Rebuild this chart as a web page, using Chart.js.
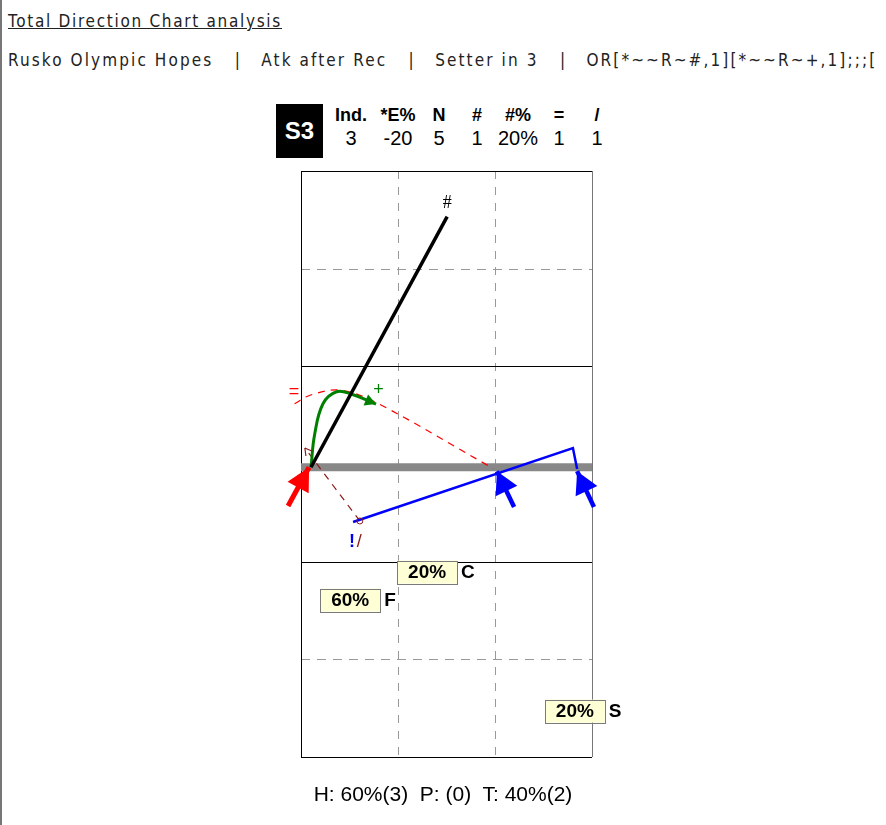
<!DOCTYPE html>
<html>
<head>
<meta charset="utf-8">
<script src="https://cdn.jsdelivr.net/npm/chart.js@4.4.1/dist/chart.umd.min.js"></script>
<style>
  body { margin: 0; background: #fff; }
  #page { position: relative; width: 886px; height: 825px; overflow: hidden; }
  #leftRule { position: absolute; left: 0; top: 0; width: 2px; height: 825px; background: #777; }
  .hdr { position: absolute; left: 8px; white-space: nowrap; font-family: "DejaVu Sans Condensed", "DejaVu Sans", sans-serif; font-size: 17px; letter-spacing: 1.7px; color: #222; }
  #title { top: 11px; text-decoration: underline; }
  #filters { top: 50px; width: 874px; overflow: hidden; letter-spacing: 2.1px; }
  #filters .sep { display: inline-block; width: 48px; text-align: center; letter-spacing: 0; }
  #badge { position: absolute; left: 276px; top: 104px; width: 47px; height: 54px; background: #000; color: #fff;
           font: bold 24px "Liberation Sans", Arial, sans-serif; display: flex; align-items: center; justify-content: center; }
  .stat { position: absolute; width: 60px; margin-left: -30px; text-align: center; font-family: "Liberation Sans", Arial, sans-serif; color: #000; }
  .stat.head { top: 105px; font-weight: bold; font-size: 18px; }
  .stat.val { top: 127px; font-size: 20px; }
  #summary { position: absolute; left: 0; width: 886px; top: 782px; text-align: center; font: 21px "Liberation Sans", Arial, sans-serif; color: #000; white-space: pre; }
  #chartBox { position: absolute; left: 0; top: 0; width: 886px; height: 825px; }
</style>
</head>
<body>
<div id="page">
  <div id="leftRule"></div>
  <div class="hdr" id="title">Total Direction Chart analysis</div>
  <div class="hdr" id="filters"></div>
  <div id="badge">S3</div>
  <div id="stats"></div>
  <div id="chartBox"><canvas id="courtChart"></canvas></div>
  <div id="summary"></div>
</div>
<script>
// header / filters
const filters = ['Rusko Olympic Hopes', 'Atk after Rec', 'Setter in 3', 'OR[*~~R~#,1][*~~R~+,1];;;['];

// stats table
const statHeads = ['Ind.', '*E%', 'N', '#', '#%', '=', '/'];
const statValues = ['3', '-20', '5', '1', '20%', '1', '1'];
const statCols = [351, 398, 439, 477, 518, 559, 597];

// zone percentages
const zoneNames = ['C', 'F', 'S'];
const zonePct = [20, 60, 20];
const zoneX = [3.9, 1.52, 8.47];
const zoneY = [5.68, 4.82, 1.41];

// summary line
const summaryKeys = ['H', 'P', 'T'];
const summaryPct = [60, null, 40];
const summaryCount = [3, 0, 2];

// court lines (meters)
const solidLinesY = [0, 6, 12, 18];
const dashedLinesY = [3, 15];
const dashedLinesX = [3, 6];
const netY = 8.9;

// attack paths (court meters)
const killPath = [{ x: 0.31, y: 8.9 }, { x: 4.52, y: 16.6 }];
const plusPath = [{ x: 0.31, y: 8.9 }, { x: 0.42, y: 9.9 }, { x: 0.68, y: 10.85 }, { x: 1.1, y: 11.22 }, { x: 1.55, y: 11.15 }, { x: 2.32, y: 10.84 }];
const errorPath = [{ x: -0.2, y: 10.85 }, { x: 0.3, y: 11.12 }, { x: 1.2, y: 11.27 }, { x: 2.3, y: 10.9 }, { x: 5.95, y: 8.86 }];
const blockedPath = [{ x: 1.82, y: 7.25 }, { x: 0.12, y: 9.49 }];
const slashPath = [{ x: 1.61, y: 7.22 }, { x: 8.41, y: 9.49 }, { x: 8.54, y: 8.85 }];
const setterArrow = [{ x: -0.4, y: 7.71 }, { x: 0.25, y: 8.9 }];
const hitterArrowA = [{ x: 6.59, y: 7.68 }, { x: 6.06, y: 8.78 }];
const hitterArrowB = [{ x: 9.06, y: 7.68 }, { x: 8.54, y: 8.78 }];

// build html parts
document.getElementById('filters').innerHTML =
  filters.map((f) => `<span>${f}</span>`).join('<span class="sep">|</span>');

const statsEl = document.getElementById('stats');
statHeads.forEach((h, i) => {
  statsEl.innerHTML += `<div class="stat head" style="left:${statCols[i]}px">${h}</div>`;
  statsEl.innerHTML += `<div class="stat val" style="left:${statCols[i]}px">${statValues[i]}</div>`;
});

document.getElementById('summary').textContent = summaryKeys
  .map((k, i) => `${k}: ${summaryPct[i] === null ? '' : summaryPct[i] + '%'}(${summaryCount[i]})`)
  .join('  ');

function strokeLine(ctx, x1, y1, x2, y2) {
  ctx.beginPath();
  ctx.moveTo(x1, y1);
  ctx.lineTo(x2, y2);
  ctx.stroke();
}

const courtPlugin = {
  id: 'court',
  beforeDatasetsDraw(chart) {
    const { ctx, scales: { x, y } } = chart;
    const left = x.getPixelForValue(0), right = x.getPixelForValue(9);
    const top = y.getPixelForValue(18), bottom = y.getPixelForValue(0);
    ctx.save();
    ctx.lineWidth = 1;
    ctx.strokeStyle = '#999';
    ctx.setLineDash([9, 7]);
    dashedLinesY.forEach((v) => {
      const py = Math.round(y.getPixelForValue(v)) + 0.5;
      strokeLine(ctx, left, py, right, py);
    });
    ctx.setLineDash([8, 8]);
    dashedLinesX.forEach((v) => {
      const px = Math.round(x.getPixelForValue(v)) + 0.5;
      strokeLine(ctx, px, top, px, bottom);
    });
    ctx.setLineDash([]);
    ctx.strokeStyle = '#000';
    solidLinesY.forEach((v) => {
      const py = Math.round(y.getPixelForValue(v)) + 0.5;
      strokeLine(ctx, left, py, right, py);
    });
    strokeLine(ctx, Math.round(left) + 0.5, top, Math.round(left) + 0.5, bottom);
    ctx.strokeStyle = '#777';
    strokeLine(ctx, Math.round(right) + 0.5, top, Math.round(right) + 0.5, bottom);
    // net
    ctx.strokeStyle = '#888';
    ctx.lineWidth = 8;
    const ny = y.getPixelForValue(netY);
    strokeLine(ctx, left, ny, right, ny);
    ctx.restore();
  }
};

// arrow heads at the last point of a dataset, placed through the scales
const arrowPlugin = {
  id: 'arrowHeads',
  afterDatasetsDraw(chart) {
    const { ctx, scales: { x, y } } = chart;
    chart.data.datasets.forEach((ds) => {
      if (!ds.head) return;
      const n = ds.data.length;
      const tx = x.getPixelForValue(ds.data[n - 1].x), ty = y.getPixelForValue(ds.data[n - 1].y);
      const px = x.getPixelForValue(ds.data[n - 2].x), py = y.getPixelForValue(ds.data[n - 2].y);
      const ang = Math.atan2(ty - py, tx - px);
      const len = ds.head.len, half = ds.head.half;
      ctx.save();
      ctx.translate(tx, ty);
      ctx.rotate(ang);
      ctx.beginPath();
      ctx.moveTo(0, 0);
      ctx.lineTo(-len, -half);
      if (ds.head.open) {
        ctx.moveTo(0, 0);
        ctx.lineTo(-len, half);
        ctx.strokeStyle = ds.borderColor;
        ctx.lineWidth = 1.2;
        ctx.stroke();
      } else {
        ctx.lineTo(-len, half);
        ctx.closePath();
        ctx.fillStyle = ds.borderColor;
        ctx.fill();
      }
      ctx.restore();
    });
  }
};

const labelPlugin = {
  id: 'courtLabels',
  afterDraw(chart) {
    const { ctx, scales: { x, y } } = chart;
    ctx.save();
    ctx.textAlign = 'center';
    ctx.textBaseline = 'middle';
    ctx.font = '18px "Liberation Serif", serif';
    ctx.fillStyle = '#000';
    ctx.fillText('#', x.getPixelForValue(4.52), y.getPixelForValue(17.0));
    ctx.font = '18px "Liberation Sans", sans-serif';
    ctx.fillStyle = '#008000';
    ctx.fillText('+', x.getPixelForValue(2.4), y.getPixelForValue(11.26));
    ctx.fillStyle = '#ff0000';
    ctx.fillText('=', x.getPixelForValue(-0.22), y.getPixelForValue(11.2));
    ctx.font = 'bold 18px "Liberation Sans", sans-serif';
    ctx.fillStyle = '#0000ff';
    ctx.fillText('!', x.getPixelForValue(1.58), y.getPixelForValue(6.6));
    ctx.font = '18px "Liberation Sans", sans-serif';
    ctx.fillStyle = '#8b1a1a';
    ctx.fillText('/', x.getPixelForValue(1.8), y.getPixelForValue(6.6));

    // zone percentage boxes
    zoneNames.forEach((name, i) => {
      const cx = x.getPixelForValue(zoneX[i]);
      const cy = y.getPixelForValue(zoneY[i]);
      ctx.font = 'bold 19px "Liberation Sans", sans-serif';
      const txt = zonePct[i] + '%';
      const w = 60, h = 23;
      ctx.fillStyle = '#ffffd6';
      ctx.fillRect(cx - w / 2, cy - h / 2, w, h);
      ctx.strokeStyle = '#7a7a7a';
      ctx.lineWidth = 1;
      ctx.strokeRect(Math.round(cx - w / 2) + 0.5, Math.round(cy - h / 2) + 0.5, w, h);
      ctx.fillStyle = '#000';
      ctx.textAlign = 'center';
      ctx.fillText(txt, cx, cy + 1);
      ctx.textAlign = 'left';
      ctx.fillText(name, cx + w / 2 + 4, cy + 1);
    });

    // open circle at the start of the blocked attack
    ctx.strokeStyle = '#8b1a1a';
    ctx.lineWidth = 1;
    ctx.beginPath();
    ctx.arc(x.getPixelForValue(blockedPath[0].x), y.getPixelForValue(blockedPath[0].y), 3, 0, Math.PI * 2);
    ctx.stroke();
    ctx.restore();
  }
};

function lineSet(data, color, width, extra) {
  return Object.assign({
    data, borderColor: color, backgroundColor: color, borderWidth: width,
    pointRadius: 0, tension: 0, fill: false, clip: false, showLine: true
  }, extra || {});
}

new Chart(document.getElementById('courtChart'), {
  type: 'scatter',
  data: {
    datasets: [
      lineSet(setterArrow, '#ff0000', 5, { order: 1, head: { len: 23, half: 12 } }),
      lineSet(hitterArrowA, '#0000ff', 4.5, { order: 1, head: { len: 22, half: 12 } }),
      lineSet(hitterArrowB, '#0000ff', 4.5, { order: 1, head: { len: 22, half: 12 } }),
      lineSet(killPath, '#000', 3.5, { order: 2 }),
      lineSet(plusPath, '#008000', 3, { order: 3, tension: 0.4, head: { len: 11, half: 6 } }),
      lineSet(slashPath, '#0000ff', 2.5, { order: 4 }),
      lineSet(errorPath, '#ff0000', 1.2, { order: 5, tension: 0.35, borderDash: [7, 6] }),
      lineSet(blockedPath, '#8b1a1a', 1.2, { order: 5, borderDash: [7, 6], head: { len: 7, half: 4, open: true } })
    ]
  },
  options: {
    responsive: true,
    maintainAspectRatio: false,
    animation: false,
    events: [],
    layout: { padding: { left: 301, right: 294, top: 171, bottom: 68 } },
    plugins: { legend: { display: false }, tooltip: { enabled: false } },
    scales: {
      x: { type: 'linear', min: 0, max: 9, display: false },
      y: { type: 'linear', min: 0, max: 18, display: false }
    }
  },
  plugins: [courtPlugin, arrowPlugin, labelPlugin]
});
</script>
</body>
</html>
